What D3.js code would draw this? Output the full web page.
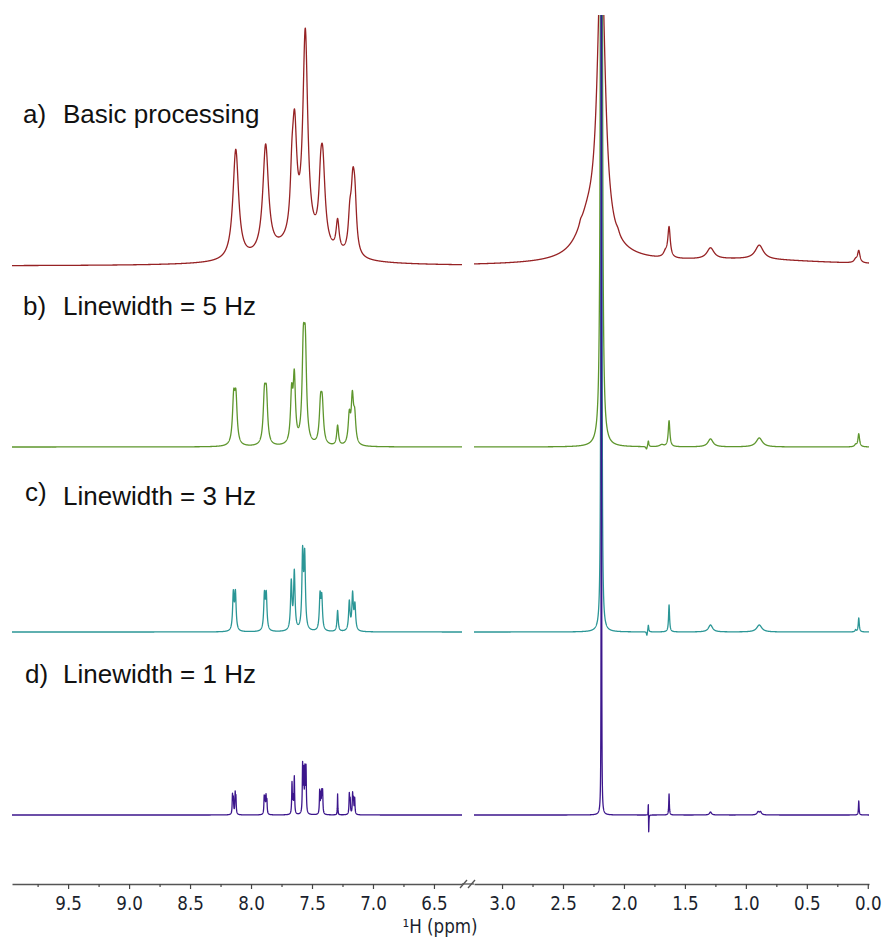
<!DOCTYPE html>
<html><head><meta charset="utf-8">
<script src="https://cdn.jsdelivr.net/npm/d3@7"></script>
<style>body{margin:0;background:#fff}</style>
</head><body>
<svg id="c" width="885" height="939"></svg>
<script>
// ---------------- data ----------------
const panelLetters = ["a)", "b)", "c)", "d)"];
const panelTitles = ["Basic processing", "Linewidth = 5 Hz", "Linewidth = 3 Hz", "Linewidth = 1 Hz"];
const leftRange = [9.96, 6.27];   // ppm shown left of the axis break
const rightRange = [3.23, -0.01]; // ppm shown right of the axis break
const majorLeft = [9.5, 9.0, 8.5, 8.0, 7.5, 7.0, 6.5];
const majorRight = [3.0, 2.5, 2.0, 1.5, 1.0, 0.5, 0.0];
const minorLeft = [9.75, 9.25, 8.75, 8.25, 7.75, 7.25, 6.75];
const minorRight = [2.75, 2.25, 1.75, 1.25, 0.75, 0.25];
const xTitle = "¹H (ppm)";

// peak lists: [shift (ppm), intensity, half-width (ppm)]
const peaksA = [
  [8.125, 110, 0.028], [7.880, 108, 0.028], [7.665, 40, 0.015], [7.643, 107, 0.022],
  [7.555, 207, 0.024], [7.430, 30, 0.015], [7.413, 85, 0.024], [7.290, 30, 0.015],
  [7.190, 30, 0.015], [7.165, 62, 0.018], [7.148, 42, 0.016], [7.600, 20, 0.28],
  [2.186, 300, 0.038], [2.300, 30, 0.10], [2.150, 8, 0.30], [2.355, 3, 0.012],
  [2.050, 3, 0.015], [1.000, 6, 0.80], [1.660, 5, 0.02], [1.630, 30, 0.012],
  [1.290, 11, 0.035], [0.890, 14, 0.040], [0.100, 3, 0.015], [0.074, 12, 0.012]
];
const peaksB = [
  [8.142, 44, 0.012], [8.124, 44, 0.012], [7.890, 45, 0.012], [7.874, 45, 0.012],
  [7.667, 48, 0.011], [7.645, 64, 0.011], [7.571, 87, 0.012], [7.555, 87, 0.012],
  [7.430, 36, 0.012], [7.416, 36, 0.012], [7.290, 20, 0.009],
  [7.194, 28, 0.011], [7.169, 45, 0.011], [7.150, 26, 0.011],
  [2.185, 3000, 0.0037], [1.815, -3, 0.006], [1.800, 6, 0.005], [1.690, 2, 0.02],
  [1.630, 26, 0.008], [1.290, 8, 0.025], [0.890, 9, 0.030], [0.100, 2, 0.01], [0.074, 13, 0.008]
];
const peaksC = [
  [8.145, 37, 0.007], [8.128, 37, 0.007], [7.890, 35, 0.007], [7.875, 35, 0.007],
  [7.670, 48, 0.007], [7.645, 58, 0.007], [7.577, 75, 0.007], [7.560, 72, 0.007],
  [7.434, 34, 0.007], [7.420, 32, 0.007], [7.290, 21, 0.006],
  [7.194, 29, 0.007], [7.167, 36, 0.007], [7.148, 25, 0.007],
  [2.185, 3000, 0.002], [1.812, -4, 0.004], [1.800, 7, 0.004],
  [1.630, 27, 0.005], [1.290, 7, 0.020], [0.890, 7, 0.025], [0.100, 2, 0.006], [0.074, 14, 0.005]
];
const peaksD = [
  [8.152, 19, 0.003], [8.145, 15, 0.003], [8.130, 20, 0.003], [8.124, 16, 0.003],
  [7.892, 17, 0.003], [7.885, 14, 0.003], [7.877, 17, 0.003], [7.870, 13, 0.003],
  [7.664, 31, 0.003], [7.655, 15, 0.003], [7.645, 37, 0.003],
  [7.577, 48, 0.003], [7.568, 40, 0.003], [7.558, 42, 0.003], [7.549, 45, 0.003],
  [7.437, 23, 0.003], [7.428, 18, 0.003], [7.420, 20, 0.003], [7.413, 22, 0.003],
  [7.290, 21, 0.002],
  [7.194, 20, 0.003], [7.187, 14, 0.003], [7.167, 20, 0.003], [7.160, 14, 0.003], [7.150, 16, 0.003],
  [2.185, 3000, 0.0008], [1.800, 17, 0.002], [1.797, -22, 0.002],
  [1.630, 21, 0.003], [1.290, 3, 0.010], [0.900, 3, 0.010], [0.880, 3, 0.010], [0.074, 14, 0.003]
];
const spectra = [peaksA, peaksB, peaksC, peaksD];
const colors = ["#962224", "#5e962d", "#2b9696", "#3c168c"];

// ---------------- layout ----------------
const baselines = [266, 447, 632, 815];
const svg = d3.select("#c");
const xL = d3.scaleLinear().domain(leftRange).range([12, 462]);
const xR = d3.scaleLinear().domain(rightRange).range([474, 869]);

function sampleSegment(peaks, dom) {
  const lo = Math.min(dom[0], dom[1]), hi = Math.max(dom[0], dom[1]);
  const pts = d3.range(lo, hi, 0.001);
  pts.push(hi);
  peaks.forEach(p => {
    [-2, -1, -0.5, 0, 0.5, 1, 2].forEach(k => {
      const v = p[0] + k * p[2];
      if (v > lo && v < hi) pts.push(v);
    });
  });
  pts.sort((a, b) => b - a);
  return pts.map(s => [s, d3.sum(peaks, p => p[1] / (1 + Math.pow((s - p[0]) / p[2], 2)))]);
}

svg.append("defs").append("clipPath").attr("id", "clip")
  .append("rect").attr("x", 0).attr("y", 15).attr("width", 885).attr("height", 924);

const plot = svg.append("g").attr("clip-path", "url(#clip)");
spectra.forEach((peaks, i) => {
  const y = d3.scaleLinear().domain([0, 250]).range([baselines[i], baselines[i] - 250]);
  [[xL, leftRange], [xR, rightRange]].forEach(([xs, dom]) => {
    const line = d3.line().x(d => xs(d[0])).y(d => y(d[1]));
    plot.append("path").datum(sampleSegment(peaks, dom))
      .attr("d", line).attr("fill", "none")
      .attr("stroke", colors[i]).attr("stroke-width", 1.3)
      .attr("stroke-linejoin", "round");
  });
});

// panel labels
const letterY = [123, 315, 501, 683];
const titleY = [123, 315, 505, 683];
const letterX = [23, 23, 25, 25];
panelLetters.forEach((t, i) => {
  svg.append("text").attr("x", letterX[i]).attr("y", letterY[i]).text(t)
    .attr("font-family", "Liberation Sans, Arial, sans-serif").attr("font-size", 26).attr("fill", "#111");
  svg.append("text").attr("x", 63).attr("y", titleY[i]).text(panelTitles[i])
    .attr("font-family", "Liberation Sans, Arial, sans-serif").attr("font-size", 26).attr("fill", "#111");
});

// axes
const axisY = 884;
const fmt = d3.format(".1f");
function drawAxis(xs, majors, minors) {
  const gM = svg.append("g").attr("transform", `translate(0,${axisY})`)
    .call(d3.axisBottom(xs).tickValues(majors).tickFormat(fmt).tickSize(5).tickSizeOuter(0).tickPadding(8));
  const gm = svg.append("g").attr("transform", `translate(0,${axisY})`)
    .call(d3.axisBottom(xs).tickValues(minors).tickFormat("").tickSize(3).tickSizeOuter(0));
  [gM, gm].forEach(g => {
    g.select(".domain").attr("stroke", "#555").attr("stroke-width", 1.3);
    g.selectAll(".tick line").attr("stroke", "#444").attr("stroke-width", 1.2);
  });
  gm.select(".domain").remove();
  gM.selectAll(".tick text").attr("font-family", "DejaVu Sans, Verdana, sans-serif")
    .attr("font-size", 19).attr("fill", "#1b1f2e").attr("transform", "scale(0.88,1)");
}
drawAxis(xL, majorLeft, minorLeft);
drawAxis(xR, majorRight, minorRight);
// axis line across the break, with break marks
svg.append("line").attr("x1", xL.range()[1]).attr("x2", xR.range()[0]).attr("y1", axisY).attr("y2", axisY)
  .attr("stroke", "#555").attr("stroke-width", 1.3);
[460, 468].forEach(x0 => {
  svg.append("line").attr("x1", x0).attr("y1", axisY + 4).attr("x2", x0 + 7).attr("y2", axisY - 4)
    .attr("stroke", "#555").attr("stroke-width", 1.3);
});
svg.append("text").attr("x", 440).attr("y", 933).attr("text-anchor", "middle")
  .attr("font-family", "DejaVu Sans, Verdana, sans-serif").attr("font-size", 19)
  .attr("transform", "translate(440,0) scale(0.88,1) translate(-440,0)")
  .attr("fill", "#1b1f2e").text(xTitle);
</script>
</body></html>
